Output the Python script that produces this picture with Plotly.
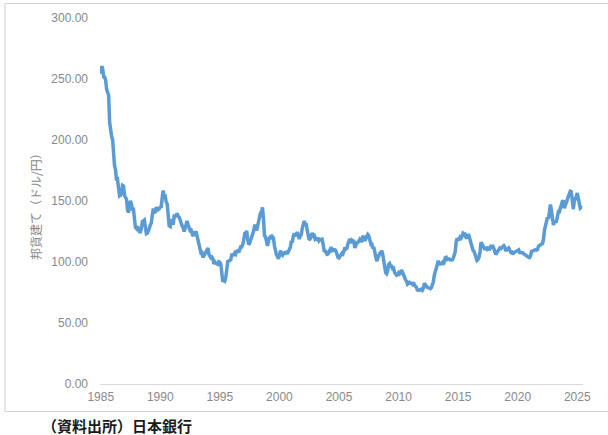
import plotly.graph_objects as go
import pandas as pd

# Monthly USD/JPY (yen per dollar), Bank of Japan, Jan 1985 - Jun 2025
usdjpy_1985_1989 = [
    254.2, 260.5, 258.6, 251.7, 251.6, 248.9, 241.7, 237.1, 236.5, 214.7, 203.9, 202.8,
    200.1, 184.6, 178.8, 175.6, 166.9, 167.5, 158.6, 154.2, 154.7, 156.5, 162.8, 162.3,
    154.5, 153.5, 151.6, 143.0, 140.5, 144.5, 150.3, 147.3, 143.3, 143.3, 135.4, 128.3,
    127.4, 129.3, 127.2, 124.9, 124.8, 127.5, 133.1, 133.7, 134.4, 128.9, 123.2, 123.6,
    127.2, 127.8, 130.4, 132.0, 138.4, 143.8, 140.8, 141.1, 145.1, 141.8, 143.5, 143.6,
]
usdjpy_1990_1999 = [
    145.1, 145.5, 153.1, 158.5, 153.5, 153.8, 149.2, 147.5, 138.4, 129.7, 129.1, 133.9,
    133.7, 130.5, 137.4, 137.1, 138.2, 139.8, 137.9, 136.8, 134.5, 130.8, 129.6, 128.1,
    125.0, 127.6, 132.8, 133.6, 130.7, 126.8, 125.8, 126.2, 122.6, 121.2, 123.9, 123.9,
    125.0, 120.8, 117.0, 112.4, 110.3, 107.4, 107.7, 103.8, 105.1, 107.0, 107.8, 109.7,
    111.5, 106.3, 105.1, 103.5, 104.0, 102.7, 98.5, 100.0, 98.8, 98.4, 98.0, 100.2,
    99.8, 98.2, 90.8, 83.7, 85.2, 84.5, 87.2, 94.7, 100.5, 100.7, 101.9, 101.9,
    105.8, 105.7, 105.9, 107.4, 106.5, 108.8, 109.2, 107.8, 109.8, 112.4, 112.3, 113.9,
    117.9, 122.9, 122.7, 125.6, 119.2, 114.3, 115.3, 117.9, 120.9, 121.1, 125.4, 129.5,
    129.5, 125.8, 129.1, 131.8, 135.0, 140.4, 140.7, 144.7, 134.5, 121.3, 120.6, 117.4,
    113.2, 116.7, 119.7, 119.7, 122.0, 120.7, 119.7, 113.3, 107.4, 106.0, 104.6, 102.6,
]
usdjpy_2000_2009 = [
    105.2, 109.4, 106.3, 105.6, 108.3, 106.1, 107.9, 108.0, 106.7, 108.4, 108.9, 112.2,
    117.1, 116.1, 121.2, 123.6, 122.0, 122.2, 124.5, 121.5, 118.9, 121.5, 122.4, 127.6,
    132.7, 133.6, 131.1, 130.8, 126.4, 123.3, 118.0, 119.0, 120.5, 123.9, 121.6, 121.9,
    118.7, 119.3, 118.7, 119.9, 117.4, 118.3, 118.7, 118.7, 114.8, 109.5, 109.2, 107.7,
    106.3, 106.7, 108.5, 107.7, 112.2, 109.4, 109.4, 110.2, 110.0, 108.9, 104.9, 103.8,
    103.3, 104.9, 105.3, 107.2, 106.6, 108.8, 111.9, 110.6, 111.2, 114.9, 118.5, 118.9,
    115.5, 117.9, 117.3, 117.1, 111.5, 114.6, 115.6, 115.9, 117.1, 118.6, 117.3, 117.3,
    120.6, 120.5, 117.3, 118.8, 120.8, 122.6, 121.6, 116.7, 115.1, 115.8, 111.2, 112.4,
    107.7, 107.1, 100.7, 102.7, 104.3, 106.9, 106.8, 109.4, 106.6, 100.1, 96.9, 91.3,
    90.4, 92.6, 97.9, 98.8, 96.6, 96.6, 94.5, 94.9, 91.3, 90.3, 89.1, 89.5,
]
usdjpy_2010_2019 = [
    91.1, 90.1, 90.7, 93.5, 91.8, 90.9, 87.7, 85.5, 84.4, 81.8, 82.5, 83.3,
    82.6, 82.6, 81.8, 83.2, 81.1, 80.5, 79.3, 77.0, 76.8, 76.7, 77.5, 77.8,
    76.9, 78.5, 82.5, 81.4, 79.7, 79.3, 78.9, 78.7, 78.2, 78.9, 80.8, 83.6,
    89.2, 93.2, 94.8, 97.7, 101.1, 97.3, 99.7, 97.9, 99.2, 97.8, 100.1, 103.5,
    103.9, 102.1, 102.3, 102.5, 101.8, 102.1, 101.7, 102.9, 107.2, 108.0, 116.4, 119.4,
    118.3, 118.6, 120.4, 119.5, 120.8, 123.7, 123.3, 123.0, 120.1, 120.1, 122.6, 121.6,
    118.2, 114.7, 112.9, 109.6, 108.9, 105.5, 103.9, 101.3, 102.1, 103.8, 108.2, 116.1,
    114.9, 113.0, 113.0, 110.1, 112.2, 110.9, 112.4, 109.8, 110.8, 112.9, 112.8, 112.9,
    110.9, 107.8, 106.1, 107.5, 109.6, 110.1, 111.4, 111.0, 111.9, 112.8, 113.4, 112.1,
    108.9, 110.4, 111.2, 111.6, 109.9, 108.1, 108.2, 106.3, 107.5, 108.1, 108.8, 109.1,
]
usdjpy_2020_2025 = [
    109.3, 110.0, 107.7, 107.8, 107.3, 107.6, 106.8, 106.0, 105.6, 105.2, 104.4, 103.8,
    103.7, 105.4, 108.7, 109.1, 109.1, 110.1, 110.2, 109.8, 110.2, 113.1, 114.0, 113.9,
    114.8, 115.2, 118.5, 126.1, 128.9, 133.9, 136.6, 135.3, 143.1, 147.1, 142.1, 134.8,
    130.3, 132.7, 133.0, 133.2, 137.0, 141.2, 141.1, 144.7, 147.7, 149.6, 149.6, 144.1,
    146.3, 149.5, 149.7, 153.6, 155.9, 157.9, 157.6, 146.3, 143.3, 149.8, 153.4, 153.8,
    156.5, 152.0, 149.1, 144.2, 144.8, 144.6,
]

start_month = "1985-01-01"
year_ticks = [1985, 1990, 1995, 2000, 2005, 2010, 2015, 2020, 2025]
y_ticks = [0, 50, 100, 150, 200, 250, 300]

values = usdjpy_1985_1989 + usdjpy_1990_1999 + usdjpy_2000_2009 + usdjpy_2010_2019 + usdjpy_2020_2025
dates = pd.date_range(start_month, periods=len(values), freq="MS")

fig = go.Figure()
fig.add_trace(go.Scatter(
    x=dates, y=values, mode="lines",
    line=dict(color="#5B9BD5", width=3.5, shape="linear"),
    hoverinfo="x+y", showlegend=False,
))

W, H = 608, 435
L, R, T, B = 100, 25, 18, 51
pw, ph = W - L - R, H - T - B

def px_x(px):
    return (px - L) / pw

def px_y(py):
    return (H - B - py) / ph

gray_text = "#898989"
font_family = "Liberation Sans, Arial, Helvetica, sans-serif"

fig.update_layout(
    width=W, height=H,
    margin=dict(l=L, r=R, t=T, b=B, pad=0),
    paper_bgcolor="white", plot_bgcolor="white",
    font=dict(family=font_family, color=gray_text, size=12),
    xaxis=dict(
        type="date",
        range=["1984-12-10", "2025-06-25"],
        tickvals=[pd.Timestamp(f"{y}-01-01") for y in year_ticks],
        ticktext=[str(y) for y in year_ticks],
        showgrid=False, zeroline=False,
        showline=True, linecolor="#d9d9d9", linewidth=1,
        ticks="", tickfont=dict(size=12, color=gray_text),
        ticklabelstandoff=2,
    ),
    yaxis=dict(
        range=[0, 300],
        tickvals=y_ticks,
        tickformat=".2f",
        showgrid=False, zeroline=False, showline=False,
        ticks="", tickfont=dict(size=12, color=gray_text),
        ticklabelstandoff=11,
    ),
    shapes=[
        dict(type="line", xref="paper", yref="paper",
             x0=px_x(5), x1=px_x(640), y0=px_y(3.5), y1=px_y(3.5),
             line=dict(color="#d6d6d6", width=1.2)),
        dict(type="line", xref="paper", yref="paper",
             x0=px_x(5), x1=px_x(5), y0=px_y(3.5), y1=px_y(411.5),
             line=dict(color="#d6d6d6", width=1.2)),
        dict(type="line", xref="paper", yref="paper",
             x0=px_x(5), x1=px_x(640), y0=px_y(411.5), y1=px_y(411.5),
             line=dict(color="#d6d6d6", width=1.2)),
    ],
    annotations=[
        dict(text="邦貨建て（ドル/円）", textangle=-90, showarrow=False,
             xref="paper", yref="paper", x=px_x(35), y=px_y(204),
             xanchor="center", yanchor="middle",
             font=dict(family="Noto Sans CJK JP", size=12, color=gray_text)),
        dict(text="<b>（資料出所）日本銀行</b>", showarrow=False,
             xref="paper", yref="paper", x=px_x(40), y=px_y(425),
             xanchor="left", yanchor="middle",
             font=dict(family="Noto Sans CJK JP", size=15, color="#1a1a1a")),
    ],
)

fig.write_html(
    "out.html",
    config={"displayModeBar": False},
    post_script="document.body.style.margin='0px';document.body.style.overflow='hidden';",
)
